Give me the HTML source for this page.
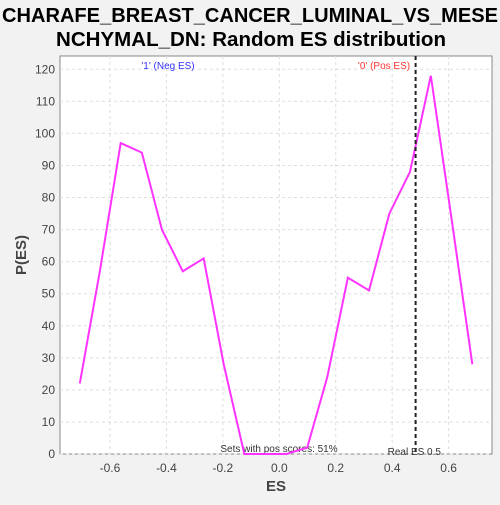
<!DOCTYPE html>
<html><head><meta charset="utf-8"><style>
body{margin:0;background:#f2f2f2;width:500px;height:500px;overflow:hidden;font-family:"Liberation Sans","DejaVu Sans",sans-serif}
</style></head><body>
<svg id="c" width="500" height="500" xmlns="http://www.w3.org/2000/svg">
<text x="250" y="22" text-anchor="middle" font-size="20" font-weight="bold" fill="#000" textLength="496" lengthAdjust="spacingAndGlyphs">CHARAFE_BREAST_CANCER_LUMINAL_VS_MESE</text>
<text x="251" y="46" text-anchor="middle" font-size="20" font-weight="bold" fill="#000" textLength="390" lengthAdjust="spacingAndGlyphs">NCHYMAL_DN: Random ES distribution</text>
<rect x="60" y="56" width="432" height="398" fill="#fff" stroke="#888"/>
<g id="grid"></g><g id="axes"></g>
<text x="276" y="491" text-anchor="middle" font-size="15" font-weight="bold" fill="#444">ES</text>
<text transform="translate(26,255) rotate(-90)" text-anchor="middle" font-size="15" font-weight="bold" fill="#444">P(ES)</text>
<text x="168" y="69" text-anchor="middle" font-size="10" fill="#3333ff">'1' (Neg ES)</text>
<text x="384" y="69" text-anchor="middle" font-size="10" fill="#ff3333">'0' (Pos ES)</text>
<text x="279" y="452" text-anchor="middle" font-size="10" fill="#333">Sets with pos scores: 51%</text>
<g id="series"></g>
</svg>
<script>
const esValues=[-0.707,-0.636,-0.562,-0.487,-0.416,-0.342,-0.268,-0.197,-0.124,-0.05,0.025,0.099,0.17,0.243,0.318,0.39,0.463,0.537,0.611,0.684];
const pValues=[22,57,97,94,70,57,61,28,0,0,0,2,24,55,51,75,88,118,73,28];
const xTicks=[-0.6,-0.4,-0.2,0.0,0.2,0.4,0.6];
const yTicks=[0,10,20,30,40,50,60,70,80,90,100,110,120];
const realES=0.483;
const realESLabel="Real ES 0.5";
const NS="http://www.w3.org/2000/svg";
const X=v=>279.3+v*282.2, Y=v=>454-v*(384.7/120);
function mk(t,a,p){const e=document.createElementNS(NS,t);for(const k in a)e.setAttribute(k,a[k]);p.appendChild(e);return e;}
const g=document.getElementById('grid'),ax=document.getElementById('axes'),s=document.getElementById('series');
xTicks.forEach(t=>{const l=mk('line',{x1:X(t),x2:X(t),y1:56,y2:454,stroke:'#ddd','stroke-dasharray':'3,3'},g);

const tx=mk('text',{x:X(t),y:472,'text-anchor':'middle','font-size':12,fill:'#444'},ax);tx.textContent=t.toFixed(1);
});
yTicks.forEach(t=>{const l=mk('line',{x1:60,x2:492,y1:Y(t),y2:Y(t),stroke:'#ddd','stroke-dasharray':'3,3'},g);

const tx=mk('text',{x:55,y:Y(t)+4,'text-anchor':'end','font-size':12,fill:'#444'},ax);tx.textContent=t;
});
const pl=mk('polyline',{points:esValues.map((v,i)=>X(v)+','+Y(pValues[i])).join(' '),fill:'none',stroke:'#ff33ff','stroke-width':2},s);

const rl=mk('line',{x1:X(realES),x2:X(realES),y1:56,y2:454,stroke:'#222','stroke-width':2,'stroke-dasharray':'4,3'},s);

const rt=mk('text',{x:X(realES)-28,y:455,'font-size':10,fill:'#333'},s);rt.textContent=realESLabel;

</script>
</body></html>
